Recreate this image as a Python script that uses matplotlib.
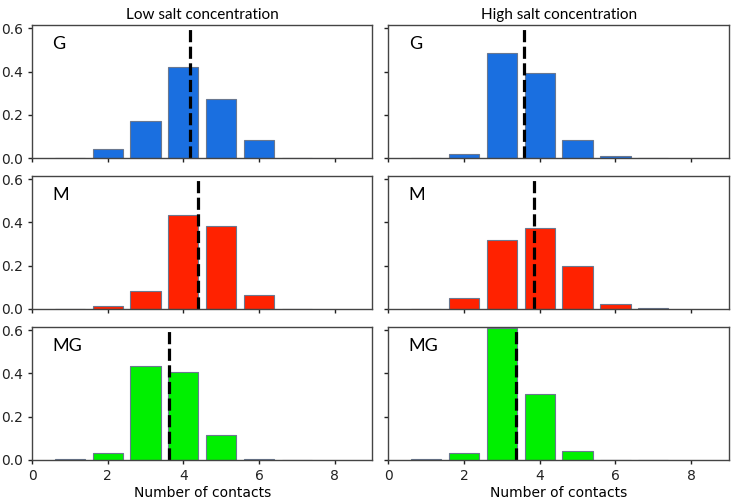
import numpy as np
import matplotlib
matplotlib.use("Agg")
import matplotlib.pyplot as plt

contacts = [1, 2, 3, 4, 5, 6, 7]

low_g = [0.002, 0.04, 0.17, 0.42, 0.275, 0.085, 0.0]
high_g = [0.0, 0.02, 0.485, 0.395, 0.085, 0.008, 0.0]
low_m = [0.0, 0.012, 0.085, 0.435, 0.385, 0.063, 0.0]
high_m = [0.0, 0.05, 0.32, 0.375, 0.2, 0.025, 0.003]
low_mg = [0.002, 0.033, 0.435, 0.405, 0.113, 0.002, 0.0]
high_mg = [0.002, 0.033, 0.61, 0.305, 0.043, 0.0, 0.0]

mean_low = [4.18, 4.39, 3.61]
mean_high = [3.58, 3.86, 3.36]

row_labels = ["G", "M", "MG"]
col_titles = ["Low salt concentration", "High salt concentration"]
colors = ["#1a6fe0", "#ff2200", "#00f000"]

data = [[low_g, high_g], [low_m, high_m], [low_mg, high_mg]]
means = [[mean_low[i], mean_high[i]] for i in range(3)]

fig, axes = plt.subplots(3, 2, figsize=(7.34, 5.01), dpi=100)
fig.subplots_adjust(left=0.0436, right=0.993, top=0.950, bottom=0.082,
                    wspace=0.047, hspace=0.135)

for r in range(3):
    for c in range(2):
        ax = axes[r, c]
        ax.bar(contacts, data[r][c], width=0.8, color=colors[r],
               edgecolor="#6a7890", linewidth=0.8)
        ax.axvline(means[r][c], color="black", lw=2.3, ls=(0, (3.8, 1.4)))
        ax.set_xlim(0, 9)
        ax.set_ylim(0, 0.615)
        ax.set_xticks([0, 2, 4, 6, 8])
        ax.set_yticks([0.0, 0.2, 0.4, 0.6])
        ax.tick_params(direction="out", length=3, width=1, labelsize=10,
                       colors="#222222")
        for s in ax.spines.values():
            s.set_color("#444444")
            s.set_linewidth(1.0)
        ax.text(0.06, 0.86, row_labels[r], transform=ax.transAxes,
                fontsize=13, family="Lato", va="center", ha="left")
        if c == 1:
            ax.set_yticklabels([])
        else:
            ax.set_yticklabels(["0.0", "0.2", "0.4", "0.6"])
        if r < 2:
            ax.set_xticklabels([])
        else:
            ax.set_xlabel("Number of contacts", fontsize=10, labelpad=2)
        if r == 0:
            ax.set_title(col_titles[c], fontsize=11, family="Lato", pad=4)

fig.savefig("out.png", dpi=100)
